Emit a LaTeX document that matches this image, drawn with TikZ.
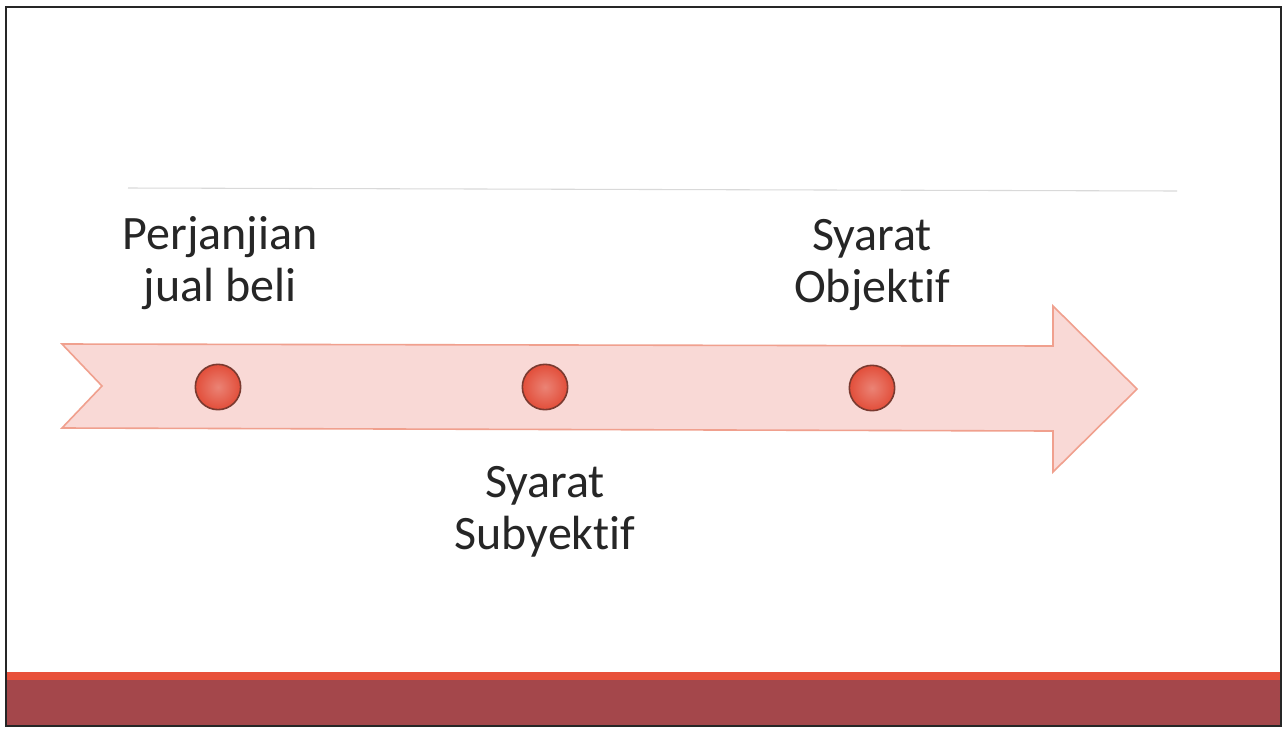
\documentclass[tikz,border=0pt]{standalone}
\usepackage{fontspec}
\setmainfont{Carlito}[Ligatures=NoCommon]
\usetikzlibrary{shadings}
\definecolor{arrowfill}{HTML}{F9D9D6}
\definecolor{arrowline}{HTML}{F0A08E}
\definecolor{dotfill}{HTML}{E24E3A}
\definecolor{dotline}{HTML}{7A3A30}
\definecolor{stripe}{HTML}{E8503A}
\definecolor{barfill}{HTML}{A4474B}
\definecolor{txt}{HTML}{262626}
\definecolor{rule}{HTML}{D9D9D9}
\tikzset{
  dot/.style={circle,draw=dotline,line width=1.2pt,inner sep=0pt,minimum size=34pt,
    inner color=dotfill!70!white,outer color=dotfill},
  label text/.style={align=center,text=txt,font=\fontsize{36}{39}\selectfont,inner sep=0pt}
}
\begin{document}
\begin{tikzpicture}[x=0.75pt,y=-0.75pt]
\useasboundingbox (0,0) rectangle (1286,729);
\fill[white] (0,0) rectangle (1286,729);
% bottom bar
\fill[barfill] (6,680) rectangle (1281,726);
\fill[stripe] (6,672) rectangle (1281,680);
% frame
\draw[line width=2.2pt,black!85] (6,7) rectangle (1281,726);
% thin top rule
\draw[rule,line width=0.8pt] (128,188) -- (1177,191);
% arrow
\draw[fill=arrowfill,draw=arrowline,line width=1.2pt,line join=miter]
  (62,344) -- (1053,346) -- (1053,306) -- (1137,389) -- (1053,472) -- (1053,431)
  -- (62,428) -- (102,386) -- cycle;
% dots
\node[dot] (d1) at (218,387) {};
\node[dot] (d2) at (545,387) {};
\node[dot] (d3) at (872,388) {};
% labels (base = baseline of last line)
\node[label text,anchor=base] (t1) at (220,301) {Perjanjian\\jual beli};
\node[label text,anchor=base] (t2) at (545,549) {Syarat\\Subyektif};
\node[label text,anchor=base] (t3) at (872,302) {Syarat\\Objektif};
\end{tikzpicture}
\end{document}
